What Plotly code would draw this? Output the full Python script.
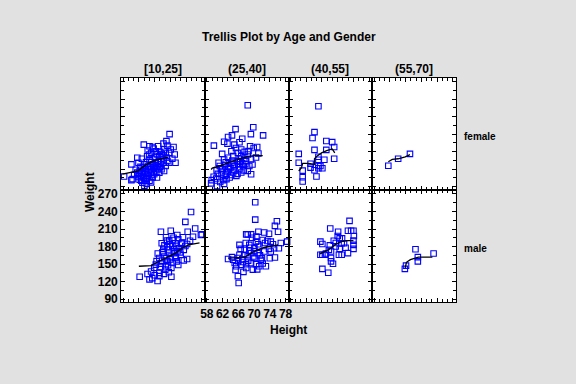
import plotly.graph_objects as go

# ---------------- data (Height, Weight) ----------------
age_groups = ["[10,25]", "(25,40]", "(40,55]", "(55,70]"]
genders = ["female", "male"]
x_ticks = [58, 62, 66, 70, 74, 78]
y_ticks = [90, 120, 150, 180, 210, 240, 270]

female_10_25 = [
    (69.8, 180.0), (63.25, 162.0), (64.7, 159.2), (65.5, 158.1), (66.9, 159.2), (68.25, 163.7),
    (69.25, 160.3), (70.1, 153.6), (71.1, 145.2), (68.4, 153.6), (67.4, 149.7), (66.3, 150.8),
    (65.1, 148.0), (64.25, 151.9), (65.75, 155.3), (68.8, 148.0), (69.7, 148.0), (67.2, 142.3),
    (64.1, 142.3), (61.6, 139.5), (62.75, 137.8), (61.9, 131.1), (60.1, 128.3), (63.4, 128.3),
    (65.1, 132.2), (66.1, 136.7), (68.25, 136.7), (69.25, 133.9), (71.3, 131.1), (67.6, 128.3),
    (66.6, 125.5), (65.75, 122.7), (64.7, 119.9), (63.8, 119.9), (63.0, 114.2), (62.2, 117.0),
    (61.6, 114.2), (62.6, 108.6), (63.4, 111.4), (64.25, 108.6), (65.1, 114.2), (65.9, 117.0),
    (66.75, 119.9), (67.75, 119.9), (68.8, 125.5), (69.7, 131.1), (63.8, 103.0), (64.7, 100.2),
    (65.5, 105.8), (66.6, 105.8), (63.4, 91.7), (63.4, 100.2), (62.2, 101.9), (60.1, 101.3),
    (60.4, 103.0), (58.25, 107.5), (65.1, 97.4), (67.2, 114.2), (68.4, 117.0), (64.25, 125.5),
    (65.5, 128.3), (66.3, 131.1), (64.7, 136.7), (66.75, 145.2), (68.0, 143.5), (63.0, 122.7),
    (65.1, 119.9), (65.9, 111.4), (64.1, 114.2), (62.6, 100.2), (61.75, 107.5),
    (62.0, 112.0), (63.6, 116.5), (64.9, 124.0), (66.0, 126.5), (67.0, 133.0), (68.2, 131.0),
    (69.0, 140.0), (70.5, 138.0), (63.2, 106.0), (64.0, 104.0), (65.3, 110.0), (66.4, 115.0),
    (67.4, 124.0), (62.4, 124.0), (61.2, 119.0), (60.8, 110.0), (64.6, 145.0), (66.2, 141.0),
    (67.8, 146.0), (70.8, 158.0), (69.0, 168.0), (63.8, 132.0), (62.9, 97.0), (64.0, 95.0),
]
female_25_40 = [
    (68.4, 229.5), (69.8, 191.9), (65.3, 188.5), (72.3, 177.8), (69.2, 180.1), (59.8, 160.4),
    (63.4, 175.0), (64.4, 177.8), (62.4, 167.1), (63.25, 163.8), (65.4, 156.4), (66.3, 166.0),
    (61.9, 146.3), (69.0, 159.2), (69.9, 156.4), (71.1, 146.9), (66.75, 153.6), (67.6, 149.7),
    (65.9, 148.0), (64.7, 142.4), (63.4, 139.6), (62.4, 136.7), (66.75, 142.4), (68.4, 145.2),
    (69.25, 136.7), (68.0, 133.9), (65.9, 133.9), (64.25, 131.1), (62.6, 127.2), (61.3, 125.5),
    (65.1, 125.5), (67.2, 125.5), (68.8, 125.5), (63.4, 119.9), (66.3, 119.9), (68.4, 117.1),
    (61.75, 114.3), (64.7, 114.3), (66.75, 114.3), (62.6, 108.6), (63.8, 105.8), (65.5, 108.6),
    (63.0, 103.0), (62.2, 101.3), (59.25, 101.3), (59.1, 95.7), (60.6, 91.2), (59.75, 107.0),
    (64.25, 150.8), (69.25, 111.4), (67.0, 130.0), (64.0, 122.0), (66.0, 128.0), (62.0, 120.0),
    (63.0, 112.0), (65.0, 118.0), (67.5, 138.0), (64.5, 135.0), (60.5, 118.0), (61.0, 131.0),
    (63.6, 124.0), (64.8, 128.0), (66.5, 133.0), (67.8, 129.0), (69.6, 128.0), (70.5, 140.0),
    (62.8, 132.0), (61.6, 121.0), (64.2, 110.0), (65.8, 112.0), (67.4, 118.0), (63.2, 116.0),
    (60.4, 104.0), (61.4, 98.0), (62.4, 95.0), (66.4, 138.0), (68.6, 151.0), (70.8, 158.0),
    (65.0, 162.0), (67.0, 172.0), (60.8, 112.0),
]
female_40_55 = [
    (65.1, 227.8), (64.1, 183.4), (63.6, 173.3), (67.1, 168.2), (68.6, 166.3), (69.1, 158.1),
    (64.1, 153.0), (67.1, 153.0), (60.1, 146.3), (69.1, 137.9), (65.1, 141.3), (66.6, 136.2),
    (65.1, 136.2), (60.1, 131.1), (63.1, 129.4), (63.1, 122.7), (64.1, 118.1), (65.1, 125.4),
    (65.6, 125.4), (65.1, 121.6), (66.1, 121.6), (61.1, 117.6), (61.1, 106.3), (61.1, 99.0),
    (64.6, 107.5),
]
female_55_70 = [(61.6, 126.0), (64.1, 137.9), (67.1, 146.3)]

male_10_25 = [
    (75.25, 239.0), (73.8, 222.2), (76.3, 210.9), (77.75, 199.7), (67.6, 205.3), (70.1, 207.0),
    (74.4, 205.3), (75.75, 196.9), (72.0, 192.4), (69.1, 190.1), (69.7, 190.1), (70.5, 191.2),
    (67.8, 185.6), (71.3, 185.6), (73.0, 186.7), (74.25, 184.5), (69.25, 178.9), (70.5, 181.1),
    (72.2, 177.2), (73.4, 174.4), (69.7, 169.9), (70.9, 168.8), (72.6, 165.9), (68.4, 163.1),
    (70.1, 163.1), (71.3, 160.3), (67.2, 160.3), (69.25, 154.7), (74.25, 158.6), (72.0, 148.5),
    (67.6, 150.8), (66.3, 149.1), (68.8, 146.3), (70.25, 143.5), (65.1, 137.3), (68.4, 133.3),
    (70.25, 128.3), (67.2, 135.0), (62.2, 128.3), (64.7, 123.8), (66.75, 121.0), (67.2, 129.4),
    (65.9, 143.5), (68.7, 140.6), (71.6, 154.7), (73.4, 156.4), (71.75, 199.7), (78.0, 200.8),
    (69.5, 175.0), (71.0, 175.5), (68.0, 170.0), (70.0, 158.0), (66.5, 155.0), (72.5, 170.0),
    (69.0, 160.0), (67.5, 145.0), (71.5, 180.0), (68.5, 182.0),
    (68.2, 176.0), (69.8, 184.0), (70.8, 195.0), (71.8, 172.0), (73.8, 181.0), (75.0, 190.0),
    (66.8, 168.0), (67.9, 156.0), (69.4, 148.0), (70.6, 152.0), (71.4, 162.0), (66.0, 131.0),
    (64.2, 133.0), (73.2, 196.0), (72.8, 185.0), (68.9, 196.0), (65.4, 126.0), (69.6, 136.0),
]
male_25_40 = [
    (70.3, 255.9), (70.3, 226.1), (75.8, 223.3), (75.3, 215.4), (76.1, 205.3), (73.8, 201.9),
    (78.4, 188.4), (68.0, 200.8), (68.4, 200.8), (69.25, 200.8), (71.1, 205.3), (72.6, 204.1),
    (66.3, 182.8), (68.8, 182.8), (70.5, 188.4), (72.2, 191.2), (73.4, 189.5), (71.3, 180.0),
    (74.25, 188.4), (75.1, 177.2), (76.3, 177.2), (67.6, 174.3), (70.1, 177.2), (69.25, 168.7),
    (70.9, 168.7), (72.6, 171.5), (74.25, 171.5), (66.3, 165.9), (68.4, 163.1), (70.1, 160.3),
    (71.75, 157.5), (63.4, 158.6), (64.7, 157.5), (65.9, 160.3), (65.1, 151.9), (67.2, 153.5),
    (69.25, 151.9), (71.3, 146.2), (73.0, 146.2), (65.5, 146.2), (68.0, 143.4), (69.7, 140.6),
    (67.3, 136.7), (65.9, 129.4), (66.1, 117.6), (75.3, 161.4), (66.75, 149.0), (70.0, 172.0),
    (71.5, 165.0), (69.0, 178.0), (72.0, 160.0), (68.5, 156.0), (70.5, 150.0), (67.5, 166.0),
    (67.0, 158.0), (68.0, 150.0), (69.8, 163.0), (71.0, 184.0), (72.8, 186.0), (73.8, 176.0),
    (74.8, 184.0), (69.5, 195.0), (70.6, 197.0), (67.9, 186.0), (66.6, 176.0), (64.4, 162.0),
    (66.0, 155.0), (70.8, 141.0), (72.2, 151.0), (74.0, 160.0), (76.8, 186.0), (68.8, 173.0),
    (65.3, 140.0),
]
male_40_55 = [
    (73.0, 223.9), (68.1, 210.9), (70.1, 205.3), (72.6, 207.0), (73.4, 207.0), (74.0, 207.0),
    (74.1, 198.0), (74.0, 190.1), (74.0, 182.8), (74.0, 176.1), (65.6, 188.5), (66.1, 184.4),
    (67.75, 174.3), (65.6, 165.9), (66.1, 165.9), (66.75, 165.9), (68.3, 160.3), (68.3, 154.6),
    (68.8, 150.7), (66.1, 141.8), (67.6, 135.1), (72.6, 168.8), (71.0, 165.9), (70.3, 165.9),
    (71.6, 185.6), (71.0, 185.6), (70.5, 194.0), (71.1, 194.0), (68.3, 171.6), (69.5, 180.0),
    (69.0, 190.0), (70.0, 198.0), (67.0, 168.0), (69.5, 186.0), (70.5, 176.0), (72.0, 178.0),
    (68.0, 182.0),
]
male_55_70 = [(68.5, 175.5), (73.1, 168.2), (69.1, 162.0), (69.1, 154.7), (66.1, 147.3), (65.8, 141.8)]

# smoothing lines (Height, Weight)
female_10_25_fit = [(57.8, 111.5), (61.75, 117.0), (62.75, 122.7), (64.4, 130.0), (66.1, 135.0), (67.75, 137.8), (69.4, 140.6)]
female_25_40_fit = [(59.1, 119.5), (59.4, 121.8), (60.1, 123.7), (61.75, 126.6), (63.4, 131.1), (65.1, 135.0), (66.75, 138.4), (68.4, 141.8), (70.1, 143.4), (72.2, 143.4)]
female_40_55_fit = [(60.1, 117.0), (60.8, 122.7), (61.1, 130.0), (62.6, 130.0), (64.1, 128.3), (64.1, 137.9), (64.7, 142.3), (65.9, 148.0), (67.2, 151.9), (68.6, 154.7), (69.25, 148.0)]
female_55_70_fit = [(61.6, 132.8), (62.6, 136.7), (64.1, 137.9), (65.9, 141.3), (67.1, 145.1)]
male_10_25_fit = [(62.0, 146.3), (65.1, 147.4), (66.3, 151.9), (68.0, 157.5), (69.6, 163.1), (71.3, 168.8), (72.9, 177.2), (74.6, 182.8), (77.4, 186.2)]
male_25_40_fit = [(63.4, 160.3), (67.6, 161.5), (69.2, 168.8), (70.9, 174.4), (72.6, 178.4), (74.25, 180.0), (76.1, 182.8)]
male_40_55_fit = [(65.5, 167.6), (66.75, 171.6), (68.0, 176.0), (69.25, 182.8), (70.9, 188.5), (72.6, 190.1), (74.0, 190.1)]
male_55_70_fit = [(65.9, 143.4), (66.2, 153.1), (67.2, 157.5), (68.4, 160.3), (69.25, 162.0), (72.8, 162.0)]

panels = [
    female_10_25, female_25_40, female_40_55, female_55_70,
    male_10_25, male_25_40, male_40_55, male_55_70,
]
fits = [
    female_10_25_fit, female_25_40_fit, female_40_55_fit, female_55_70_fit,
    male_10_25_fit, male_25_40_fit, male_40_55_fit, male_55_70_fit,
]

# ---------------- layout ----------------
W, H = 576, 384
LEFT, TOP, COLW, ROWH = 118, 76, 85, 114.5
XR = [57.5, 78.75]
YR = [84.4, 276.7]
FONT = "Arial, Liberation Sans, sans-serif"
BG = "#e1e1e1"

fig = go.Figure()
layout = {}
for i, (pts, fit) in enumerate(zip(panels, fits)):
    row, col = divmod(i, 4)
    k = i + 1
    xs = "x" if k == 1 else f"x{k}"
    ys = "y" if k == 1 else f"y{k}"
    fig.add_trace(go.Scatter(
        x=[p[0] for p in pts], y=[p[1] for p in pts], mode="markers",
        marker=dict(symbol="square-open", size=5.5, color="#0000ff", line=dict(width=1.1, color="#0000ff")),
        xaxis=xs, yaxis=ys, cliponaxis=False, showlegend=False, hoverinfo="skip"))
    fig.add_trace(go.Scatter(
        x=[p[0] for p in fit], y=[p[1] for p in fit], mode="lines",
        line=dict(color="black", width=1.3),
        xaxis=xs, yaxis=ys, cliponaxis=False, showlegend=False, hoverinfo="skip"))
    x0 = (LEFT + col * COLW) / W
    x1 = (LEFT + (col + 1) * COLW) / W
    ytop = TOP + row * ROWH
    y1 = 1 - ytop / H
    y0 = 1 - (ytop + ROWH) / H
    common = dict(showline=True, linecolor="black", linewidth=1, mirror="allticks",
                  ticks="inside", ticklen=4, tickcolor="black", tickwidth=1,
                  showgrid=False, zeroline=False,
                  tickfont=dict(family=FONT, size=12, color="black", weight="bold"))
    layout["xaxis" if k == 1 else f"xaxis{k}"] = dict(
        common, domain=[x0, x1], anchor=ys, range=XR, tickmode="array", tickvals=x_ticks,
        showticklabels=(row == 1 and col == 1),
        minor=dict(ticks="inside", ticklen=3, tick0=58, dtick=4 / 3, tickcolor="black", showgrid=False))
    layout["yaxis" if k == 1 else f"yaxis{k}"] = dict(
        common, domain=[y0, y1], anchor=xs, range=YR, tickmode="array", tickvals=y_ticks,
        showticklabels=(row == 1 and col == 0),
        minor=dict(ticks="inside", ticklen=3, tick0=90, dtick=15, tickcolor="black", showgrid=False))

fig.update_layout(**layout)

ann = []
def A(text, x, y, size=12, xanchor="center", angle=0):
    ann.append(dict(text=f"<b>{text}</b>", x=x / W, y=1 - y / H, xref="paper", yref="paper",
                    xanchor=xanchor, yanchor="middle", showarrow=False, textangle=angle,
                    font=dict(family=FONT, size=size, color="black")))

A("Trellis Plot by Age and Gender", 288, 35, 12)
for c, g in enumerate(age_groups):
    A(g, LEFT + (c + 0.5) * COLW, 67.5, 12)
A(genders[0], 464, 135.5, 10, xanchor="left")
A(genders[1], 464, 250, 10, xanchor="left")
A("Weight", 87, 193, 12, angle=-90)
A("Height", 288, 333, 12)

fig.update_layout(
    width=W, height=H, margin=dict(l=0, r=0, t=0, b=0),
    paper_bgcolor=BG, plot_bgcolor="white",
    annotations=ann, showlegend=False,
)
fig.write_html(
    "out.html",
    config={"displayModeBar": False, "staticPlot": True},
    post_script=f"document.body.style.margin='0';document.body.style.padding='0';"
                f"document.body.style.overflow='hidden';document.body.style.background='{BG}';",
)
